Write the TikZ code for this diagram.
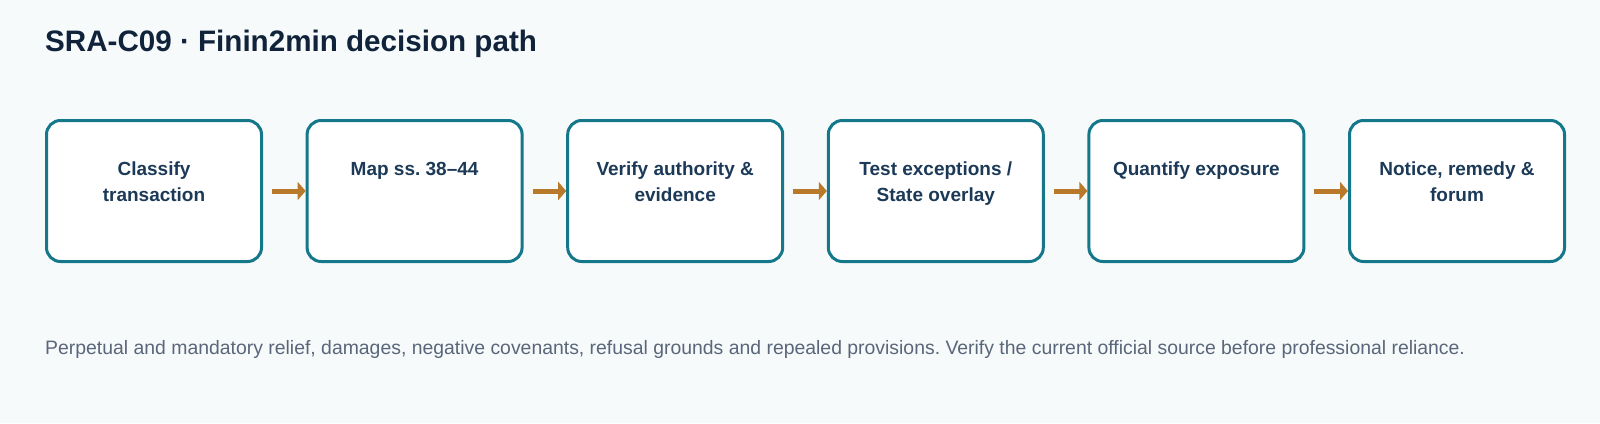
\documentclass[tikz,border=0pt]{standalone}
\usepackage{fontspec}
\setmainfont{Liberation Sans}
\usetikzlibrary{arrows.meta}
\frenchspacing
\definecolor{bgc}{HTML}{F6FAFB}
\definecolor{titlec}{HTML}{10233A}
\definecolor{boxtext}{HTML}{1C3A57}
\definecolor{boxline}{HTML}{14788A}
\definecolor{arrc}{HTML}{B8792A}
\definecolor{footc}{HTML}{5A6679}
\tikzset{
  stepbox/.style={draw=boxline, line width=3pt, fill=white, rounded corners=14pt,
    minimum width=215pt, minimum height=141pt, inner sep=0pt},
  steptext/.style={anchor=base, align=center, inner sep=0pt, text=boxtext,
    font=\fontsize{19}{26.7}\selectfont\bfseries},
  flow/.style={draw=arrc, line width=5pt, -{Triangle[length=8pt,width=18pt]}}
}
\begin{document}
\begin{tikzpicture}[x=1pt,y=-1pt]
\fill[bgc] (0,0) rectangle (1600,423);
\useasboundingbox (0,0) rectangle (1600,423);
\node[anchor=base west, inner sep=0pt, text=titlec, font=\fontsize{29.6}{36}\selectfont\bfseries] (title) at (45,51) {SRA-C09 · Finin2min decision path};

\node[stepbox] (b1) at (154,191) {};
\node[stepbox] (b2) at (414.6,191) {};
\node[stepbox] (b3) at (675.2,191) {};
\node[stepbox] (b4) at (935.8,191) {};
\node[stepbox] (b5) at (1196.4,191) {};
\node[stepbox] (b6) at (1457,191) {};

\node[steptext] (t1) at (154,201.7) {Classify\\transaction};
\node[steptext] (t2) at (414.6,175) {Map ss. 38–44};
\node[steptext] (t3) at (675.2,201.7) {Verify authority \&\\evidence};
\node[steptext] (t4) at (935.8,201.7) {Test exceptions /\\State overlay};
\node[steptext] (t5) at (1196.4,175) {Quantify exposure};
\node[steptext] (t6) at (1457,201.7) {Notice, remedy \&\\forum};

\draw[flow] ([xshift=9pt]b1.east) -- (b2.west);
\draw[flow] ([xshift=9pt]b2.east) -- (b3.west);
\draw[flow] ([xshift=9pt]b3.east) -- (b4.west);
\draw[flow] ([xshift=9pt]b4.east) -- (b5.west);
\draw[flow] ([xshift=9pt]b5.east) -- (b6.west);

\node[anchor=base west, inner sep=0pt, text=footc, font=\fontsize{19.4}{23}\selectfont] (foot) at (45,354) {Perpetual and mandatory relief, damages, negative covenants, refusal grounds and repealed provisions. Verify the current official source before professional reliance.};
\end{tikzpicture}
\end{document}
